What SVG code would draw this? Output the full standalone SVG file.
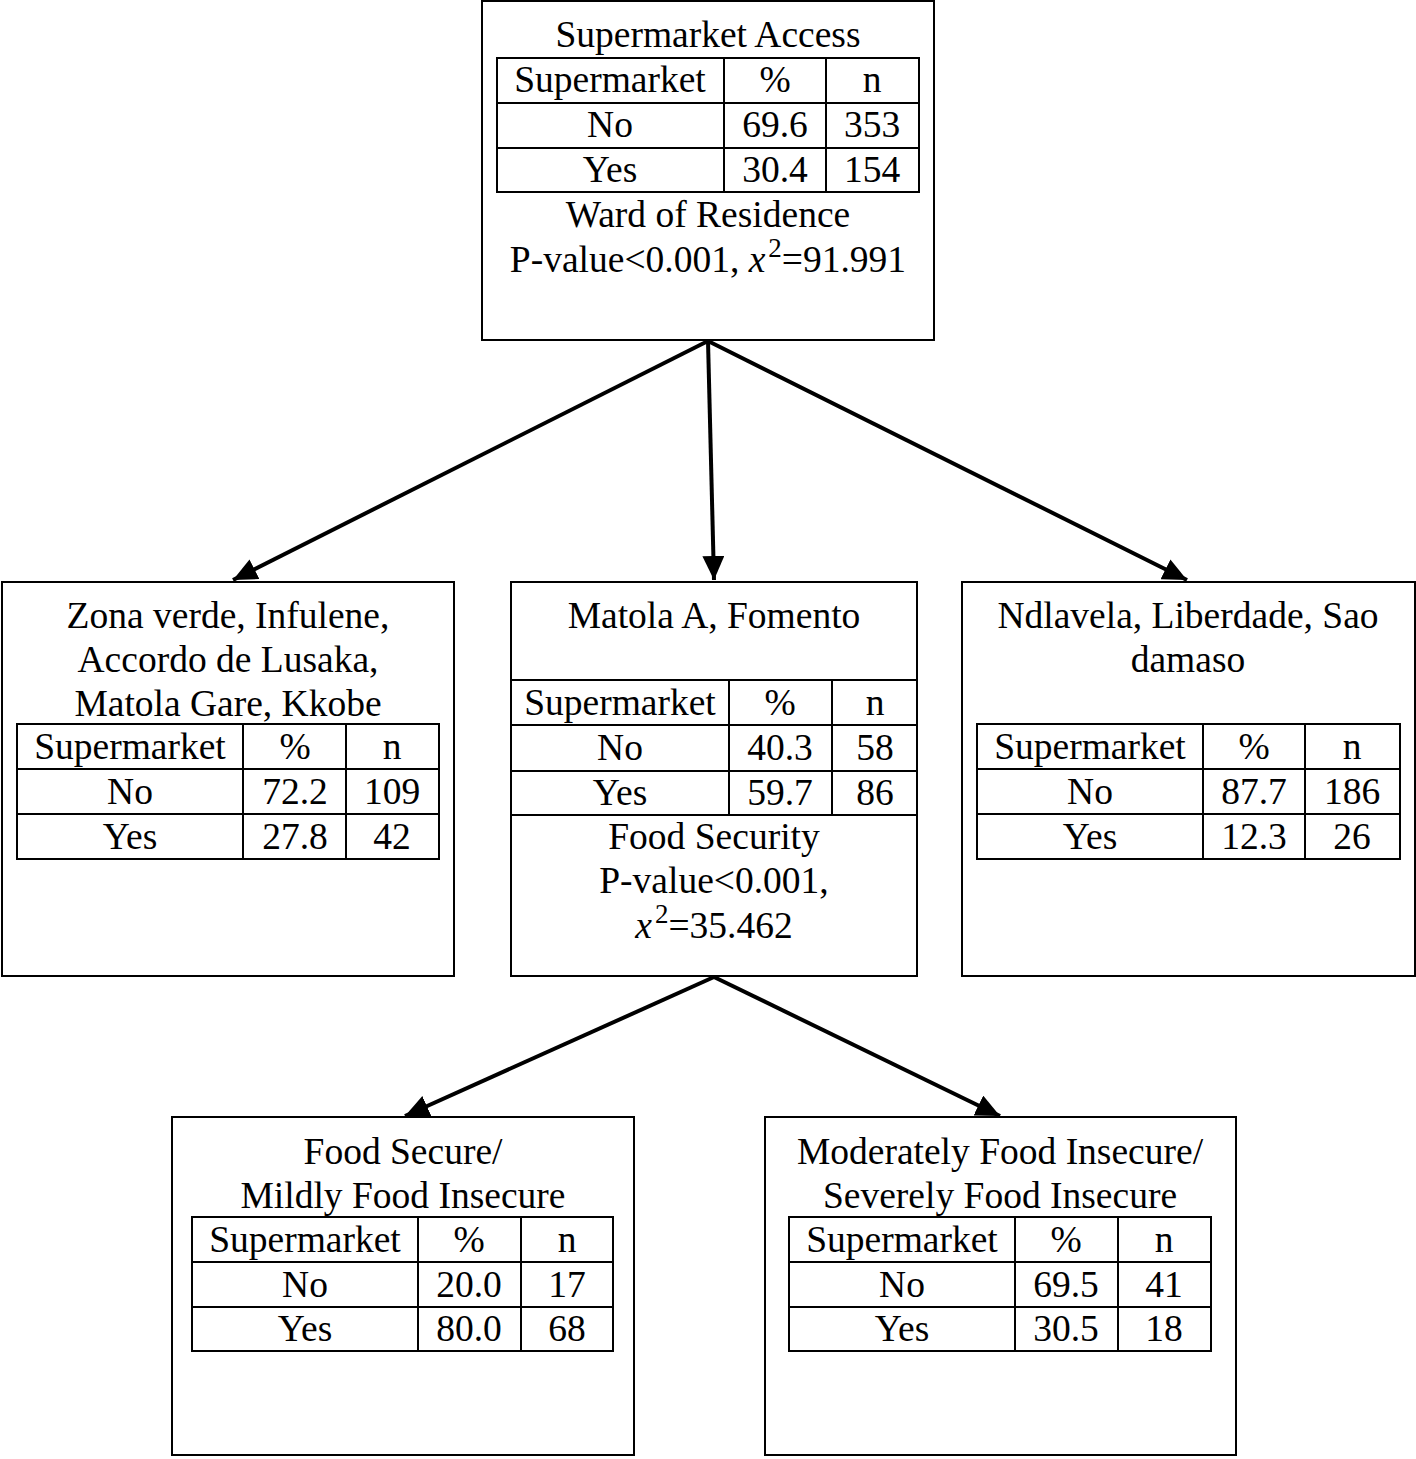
<svg xmlns="http://www.w3.org/2000/svg" width="1416" height="1459" viewBox="0 0 1416 1459">
<style>
text{font-family:"Liberation Serif","Times New Roman",serif;font-size:37.5px;fill:#000;text-anchor:middle}
.box{fill:#fff;stroke:#000;stroke-width:2}
.tbl{fill:none;stroke:#000;stroke-width:2}
.conn{stroke:#000;stroke-width:4;fill:none}
.it{font-style:italic}
.sup{font-size:27px}
</style>
<defs>
<marker id="ah" viewBox="0 0 24 22" refX="24" refY="11" markerWidth="24" markerHeight="22" markerUnits="userSpaceOnUse" orient="auto">
<path d="M0,0 L24,11 L0,22 Z" fill="#000"/>
</marker>
</defs>
<rect width="1416" height="1459" fill="#fff"/>
<g id="connectors">
<line class="conn" x1="708" y1="341" x2="233" y2="580" marker-end="url(#ah)"/>
<line class="conn" x1="708" y1="341" x2="714" y2="580" marker-end="url(#ah)"/>
<line class="conn" x1="708" y1="341" x2="1187" y2="580" marker-end="url(#ah)"/>
<line class="conn" x1="714" y1="977" x2="405" y2="1116" marker-end="url(#ah)"/>
<line class="conn" x1="714" y1="977" x2="1000" y2="1116" marker-end="url(#ah)"/>
</g>
<g id="node-root">
<rect class="box" x="482" y="1" width="452" height="339"/>
<text x="708" y="47">Supermarket Access</text>
<rect class="tbl" x="497" y="58" width="422" height="134"/>
<path class="tbl" d="M497,103H919M497,148H919M724,58V192M826,58V192"/>
<text x="610" y="92">Supermarket</text><text x="775" y="92">%</text><text x="872" y="92">n</text>
<text x="610" y="137">No</text><text x="775" y="137">69.6</text><text x="872" y="137">353</text>
<text x="610" y="182">Yes</text><text x="775" y="182">30.4</text><text x="872" y="182">154</text>
<text x="708" y="227">Ward of Residence</text>
<text x="708" y="272">P-value&lt;0.001, <tspan class="it">x</tspan><tspan class="sup" dx="3" dy="-15">2</tspan><tspan dy="15">=91.991</tspan></text>
</g>
<g id="node-left">
<rect class="box" x="2" y="582" width="452" height="394"/>
<text x="228" y="628">Zona verde, Infulene,</text>
<text x="228" y="672">Accordo de Lusaka,</text>
<text x="228" y="716">Matola Gare, Kkobe</text>
<rect class="tbl" x="17" y="724" width="422" height="135"/>
<path class="tbl" d="M17,769H439M17,814H439M243,724V859M346,724V859"/>
<text x="130" y="759">Supermarket</text><text x="295" y="759">%</text><text x="392" y="759">n</text>
<text x="130" y="804">No</text><text x="295" y="804">72.2</text><text x="392" y="804">109</text>
<text x="130" y="849">Yes</text><text x="295" y="849">27.8</text><text x="392" y="849">42</text>
</g>
<g id="node-middle">
<rect class="box" x="511" y="582" width="406" height="394"/>
<text x="714" y="628">Matola A, Fomento</text>
<path class="tbl" d="M511,680H917M511,725H917M511,771H917M511,815H917M729,680V815M832,680V815"/>
<text x="620" y="715">Supermarket</text><text x="780" y="715">%</text><text x="875" y="715">n</text>
<text x="620" y="760">No</text><text x="780" y="760">40.3</text><text x="875" y="760">58</text>
<text x="620" y="805">Yes</text><text x="780" y="805">59.7</text><text x="875" y="805">86</text>
<text x="714" y="849">Food Security</text>
<text x="714" y="893">P-value&lt;0.001,</text>
<text x="714" y="938"><tspan class="it">x</tspan><tspan class="sup" dx="3" dy="-15">2</tspan><tspan dy="15">=35.462</tspan></text>
</g>
<g id="node-right">
<rect class="box" x="962" y="582" width="453" height="394"/>
<text x="1188" y="628">Ndlavela, Liberdade, Sao</text>
<text x="1188" y="672">damaso</text>
<rect class="tbl" x="977" y="724" width="423" height="135"/>
<path class="tbl" d="M977,769H1400M977,814H1400M1203,724V859M1305,724V859"/>
<text x="1090" y="759">Supermarket</text><text x="1254" y="759">%</text><text x="1352" y="759">n</text>
<text x="1090" y="804">No</text><text x="1254" y="804">87.7</text><text x="1352" y="804">186</text>
<text x="1090" y="849">Yes</text><text x="1254" y="849">12.3</text><text x="1352" y="849">26</text>
</g>
<g id="node-food-secure">
<rect class="box" x="172" y="1117" width="462" height="338"/>
<text x="403" y="1164">Food Secure/</text>
<text x="403" y="1208">Mildly Food Insecure</text>
<rect class="tbl" x="192" y="1217" width="421" height="134"/>
<path class="tbl" d="M192,1262H613M192,1307H613M418,1217V1351M521,1217V1351"/>
<text x="305" y="1252">Supermarket</text><text x="469" y="1252">%</text><text x="567" y="1252">n</text>
<text x="305" y="1297">No</text><text x="469" y="1297">20.0</text><text x="567" y="1297">17</text>
<text x="305" y="1341">Yes</text><text x="469" y="1341">80.0</text><text x="567" y="1341">68</text>
</g>
<g id="node-food-insecure">
<rect class="box" x="765" y="1117" width="471" height="338"/>
<text x="1000" y="1164">Moderately Food Insecure/</text>
<text x="1000" y="1208">Severely Food Insecure</text>
<rect class="tbl" x="789" y="1217" width="422" height="134"/>
<path class="tbl" d="M789,1262H1211M789,1307H1211M1015,1217V1351M1118,1217V1351"/>
<text x="902" y="1252">Supermarket</text><text x="1066" y="1252">%</text><text x="1164" y="1252">n</text>
<text x="902" y="1297">No</text><text x="1066" y="1297">69.5</text><text x="1164" y="1297">41</text>
<text x="902" y="1341">Yes</text><text x="1066" y="1341">30.5</text><text x="1164" y="1341">18</text>
</g>
</svg>
